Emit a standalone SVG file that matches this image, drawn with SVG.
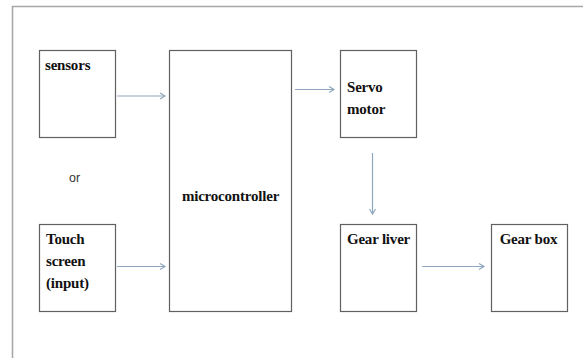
<svg xmlns="http://www.w3.org/2000/svg" width="583" height="358" viewBox="0 0 583 358">
<style>
.box{fill:#fff;stroke:#606060;stroke-width:1.2}
.lbl{font-family:"Liberation Serif","Times New Roman",serif;font-weight:bold;font-size:15px;fill:#111;letter-spacing:-0.2px}
.conn{stroke:#8fa8bf;stroke-width:1.2;fill:none}
</style>
<defs>
<marker id="arr" markerWidth="8" markerHeight="8" refX="6" refY="4" orient="auto" markerUnits="userSpaceOnUse">
<polyline points="1,1 6,4 1,7" fill="none" stroke="#8fa8bf" stroke-width="1.2"/>
</marker>
</defs>
<rect x="0" y="0" width="583" height="358" fill="#fff"/>
<path d="M12.5,358 V6.5 H583" fill="none" stroke="#a8a8a8" stroke-width="1.6"/>
<g id="sensors">
<rect class="box" x="39.5" y="50.5" width="76" height="87"/>
<text class="lbl" x="45" y="70">sensors</text>
</g>
<g id="or">
<text x="69" y="182" font-family="Liberation Sans, Arial, sans-serif" font-size="12.5" fill="#333">or</text>
</g>
<g id="touch">
<rect class="box" x="39.5" y="224.5" width="76" height="87"/>
<text class="lbl" x="46" y="244">Touch</text>
<text class="lbl" x="46" y="266">screen</text>
<text class="lbl" x="46" y="288">(input)</text>
</g>
<g id="microcontroller">
<rect class="box" x="169.5" y="50.5" width="122" height="261"/>
<text class="lbl" x="230.5" y="201" text-anchor="middle">microcontroller</text>
</g>
<g id="servo">
<rect class="box" x="340.5" y="50.5" width="76" height="87"/>
<text class="lbl" x="347" y="92">Servo</text>
<text class="lbl" x="347" y="114">motor</text>
</g>
<g id="gearliver">
<rect class="box" x="340.5" y="224.5" width="76" height="87"/>
<text class="lbl" x="378.5" y="244" text-anchor="middle">Gear liver</text>
</g>
<g id="gearbox">
<rect class="box" x="491.5" y="224.5" width="76" height="87"/>
<text class="lbl" x="528.5" y="244" text-anchor="middle">Gear box</text>
</g>
<g id="connectors">
<line class="conn" x1="117" y1="96" x2="165" y2="96" marker-end="url(#arr)"/>
<line class="conn" x1="117" y1="266.5" x2="165" y2="266.5" marker-end="url(#arr)"/>
<line class="conn" x1="295" y1="89.5" x2="334" y2="89.5" marker-end="url(#arr)"/>
<line class="conn" x1="372.5" y1="153" x2="372.5" y2="214" marker-end="url(#arr)"/>
<line class="conn" x1="422" y1="266.5" x2="484" y2="266.5" marker-end="url(#arr)"/>
</g>
</svg>
